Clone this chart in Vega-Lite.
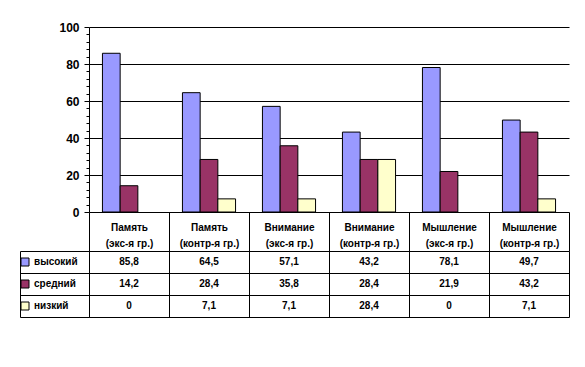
{
  "$schema": "https://vega.github.io/schema/vega-lite/v6.json",
  "background": "white",
  "padding": {"left": 19, "top": 21, "right": 16, "bottom": 5},
  "config": {
    "view": {"stroke": null},
    "font": "Liberation Sans",
    "locale": {"number": {"decimal": ",", "thousands": " ", "grouping": [3], "currency": ["", ""]}},
    "axis": {"domainColor": "black", "tickColor": "black", "gridColor": "black", "labelColor": "black", "labelFont": "Liberation Sans", "labelFontWeight": "bold", "domainWidth": 1, "tickWidth": 1, "gridWidth": 1}
  },
  "data": {
    "values": [
      {"category": "Память (экс-я гр.)", "series": "высокий", "value": 85.8},
      {"category": "Память (экс-я гр.)", "series": "средний", "value": 14.2},
      {"category": "Память (экс-я гр.)", "series": "низкий", "value": 0},
      {"category": "Память (контр-я гр.)", "series": "высокий", "value": 64.5},
      {"category": "Память (контр-я гр.)", "series": "средний", "value": 28.4},
      {"category": "Память (контр-я гр.)", "series": "низкий", "value": 7.1},
      {"category": "Внимание (экс-я гр.)", "series": "высокий", "value": 57.1},
      {"category": "Внимание (экс-я гр.)", "series": "средний", "value": 35.8},
      {"category": "Внимание (экс-я гр.)", "series": "низкий", "value": 7.1},
      {"category": "Внимание (контр-я гр.)", "series": "высокий", "value": 43.2},
      {"category": "Внимание (контр-я гр.)", "series": "средний", "value": 28.4},
      {"category": "Внимание (контр-я гр.)", "series": "низкий", "value": 28.4},
      {"category": "Мышление (экс-я гр.)", "series": "высокий", "value": 78.1},
      {"category": "Мышление (экс-я гр.)", "series": "средний", "value": 21.9},
      {"category": "Мышление (экс-я гр.)", "series": "низкий", "value": 0},
      {"category": "Мышление (контр-я гр.)", "series": "высокий", "value": 49.7},
      {"category": "Мышление (контр-я гр.)", "series": "средний", "value": 43.2},
      {"category": "Мышление (контр-я гр.)", "series": "низкий", "value": 7.1}
    ]
  },
  "spacing": 39,
  "bounds": "flush",
  "resolve": {"scale": {"color": "independent"}, "legend": {"color": "independent"}},
  "vconcat": [
    {
      "width": 480,
      "height": 185,
      "layer": [
        {
          "mark": {"type": "bar", "stroke": "black", "strokeWidth": 1},
          "transform": [{"filter": "datum.value > 0"}],
          "encoding": {
            "x": {
              "field": "category", "type": "nominal",
              "sort": ["Память (экс-я гр.)", "Память (контр-я гр.)", "Внимание (экс-я гр.)", "Внимание (контр-я гр.)", "Мышление (экс-я гр.)", "Мышление (контр-я гр.)"],
              "scale": {"domain": ["Память (экс-я гр.)", "Память (контр-я гр.)", "Внимание (экс-я гр.)", "Внимание (контр-я гр.)", "Мышление (экс-я гр.)", "Мышление (контр-я гр.)"], "paddingInner": 0, "paddingOuter": 0},
              "axis": {
                "title": null, "labelAngle": 0, "tickBand": "extent", "tickSize": 39,
                "labelPadding": -29, "labelFontSize": 10, "labelLineHeight": 16,
                "labelExpr": "[slice(datum.label, 0, indexof(datum.label, ' (')), slice(datum.label, indexof(datum.label, ' (') + 1)]"
              }
            },
            "xOffset": {
              "field": "series", "type": "nominal",
              "sort": ["высокий", "средний", "низкий"],
              "scale": {"domain": ["высокий", "средний", "низкий"], "paddingInner": 0, "paddingOuter": 0.76}
            },
            "y": {
              "field": "value", "type": "quantitative",
              "scale": {"domain": [0, 100], "nice": false},
              "axis": {
                "title": null,
                "values": [0, 4, 8, 12, 16, 20, 24, 28, 32, 36, 40, 44, 48, 52, 56, 60, 64, 68, 72, 76, 80, 84, 88, 92, 96, 100],
                "labelExpr": "datum.value % 20 === 0 ? datum.label : ''",
                "gridOpacity": {"condition": {"test": "datum.value % 20 === 0 && datum.value > 0", "value": 1}, "value": 0},
                "tickSize": {"condition": {"test": "datum.value % 20 === 0", "value": 5}, "value": 3},
                "labelFontSize": 12, "labelPadding": 5
              }
            },
            "color": {
              "field": "series", "type": "nominal",
              "scale": {"domain": ["высокий", "средний", "низкий"], "range": ["#9999FF", "#993366", "#FFFFCC"]},
              "legend": null
            }
          }
        }
      ]
    },
    {
      "width": 480,
      "height": 66,
      "layer": [
        {
          "mark": {"type": "text", "fontWeight": "bold", "fontSize": 10, "font": "Liberation Sans", "color": "black"},
          "encoding": {
            "x": {
              "field": "category", "type": "nominal",
              "sort": ["Память (экс-я гр.)", "Память (контр-я гр.)", "Внимание (экс-я гр.)", "Внимание (контр-я гр.)", "Мышление (экс-я гр.)", "Мышление (контр-я гр.)"],
              "scale": {"paddingInner": 0, "paddingOuter": 0},
              "axis": {"title": null, "grid": true, "tickBand": "extent", "labels": false, "ticks": false, "domain": false, "gridColor": "black", "gridOpacity": 1}
            },
            "y": {
              "field": "series", "type": "nominal",
              "sort": ["высокий", "средний", "низкий"],
              "scale": {"paddingInner": 0, "paddingOuter": 0},
              "axis": {"title": null, "grid": true, "tickBand": "extent", "labels": false, "ticks": true, "tickSize": 69, "domain": true, "gridColor": "black", "gridOpacity": 1}
            },
            "text": {"field": "value", "type": "quantitative", "format": ".1~f"}
          }
        },
        {
          "mark": {"type": "square", "opacity": 0, "size": 64},
          "encoding": {
            "x": {
              "field": "category", "type": "nominal",
              "sort": ["Память (экс-я гр.)", "Память (контр-я гр.)", "Внимание (экс-я гр.)", "Внимание (контр-я гр.)", "Мышление (экс-я гр.)", "Мышление (контр-я гр.)"]
            },
            "y": {
              "field": "series", "type": "nominal",
              "sort": ["высокий", "средний", "низкий"],
              "axis": {"title": null, "orient": "left", "offset": 69, "grid": false, "labels": false, "ticks": false, "domain": true}
            },
            "color": {
              "field": "series", "type": "nominal",
              "scale": {"domain": ["высокий", "средний", "низкий"], "range": ["#9999FF", "#993366", "#FFFFCC"]},
              "legend": {
                "title": null, "orient": "none", "legendX": -69, "legendY": 0, "padding": 0,
                "symbolType": "square", "symbolSize": 64, "symbolStrokeColor": "black", "symbolStrokeWidth": 1, "symbolOpacity": 1,
                "labelFont": "Liberation Sans", "labelFontWeight": "bold", "labelFontSize": 10, "labelColor": "black",
                "clipHeight": 22, "rowPadding": 0, "labelOffset": 4
              }
            }
          }
        }
      ],
      "resolve": {"axis": {"y": "independent"}}
    }
  ]
}
